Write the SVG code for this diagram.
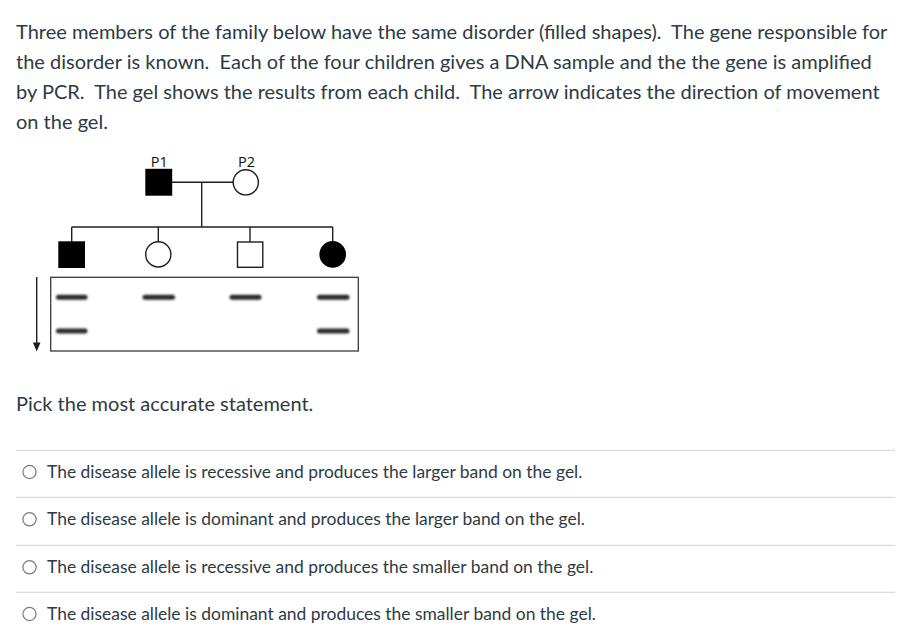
<svg xmlns="http://www.w3.org/2000/svg" width="914" height="635" viewBox="0 0 914 635">
<style>
.q{font-family:Lato,"Open Sans","Liberation Sans",sans-serif;font-size:20px;fill:#2d3b45;white-space:pre}
.o{font-family:Lato,"Open Sans","Liberation Sans",sans-serif;font-size:17.45px;fill:#2d3b45}
.lbl{font-family:"Open Sans","Liberation Sans",sans-serif;font-size:14.5px;fill:#111;text-anchor:middle}
.ln{stroke:#1e1e1e;stroke-width:1.4;fill:none}
.aff{fill:#000;stroke:#000;stroke-width:1.4}
.un{fill:#fff;stroke:#1e1e1e;stroke-width:1.4}
.sep{stroke:#dcdcdc;stroke-width:1.3}
.radio{fill:#fff;stroke:#7a7a7a;stroke-width:1.2}
.band{fill:#2a2a2a;filter:url(#blur)}
</style>
<defs>
<filter id="blur" x="-20%" y="-100%" width="140%" height="300%"><feGaussianBlur stdDeviation="1.3"/></filter>
</defs>
<rect width="914" height="635" fill="#fff"/>
<g id="question">
<text class="q" x="16" y="39">Three members of the family below have the same disorder (filled shapes).  The gene responsible for</text>
<text class="q" x="16" y="69">the disorder is known.  Each of the four children gives a DNA sample and the the gene is amplified</text>
<text class="q" x="16" y="99">by PCR.  The gel shows the results from each child.  The arrow indicates the direction of movement</text>
<text class="q" x="16" y="128.5">on the gel.</text>
</g>
<g id="connectors">
<line class="ln" x1="172" y1="182.3" x2="233" y2="182.3"/>
<line class="ln" x1="201.7" y1="182.3" x2="201.7" y2="227"/>
<line class="ln" x1="71.7" y1="227" x2="332.7" y2="227"/>
<line class="ln" x1="71.7" y1="227" x2="71.7" y2="241.7"/>
<line class="ln" x1="158.3" y1="227" x2="158.3" y2="241.7"/>
<line class="ln" x1="250" y1="227" x2="250" y2="241.7"/>
<line class="ln" x1="332.7" y1="227" x2="332.7" y2="241.7"/>
</g>
<g id="P1">
<text class="lbl" x="159.3" y="166.7">P1</text>
<rect class="aff" x="146" y="169.5" width="25.5" height="25.5"/>
</g>
<g id="P2">
<text class="lbl" x="246.5" y="166.7">P2</text>
<circle class="un" cx="245.8" cy="182.3" r="12.6"/>
</g>
<g id="child1"><rect class="aff" x="59" y="242" width="25.3" height="25.3"/></g>
<g id="child2"><circle class="un" cx="158.3" cy="254.4" r="12.6"/></g>
<g id="child3"><rect class="un" x="237.5" y="242" width="25.3" height="25.3"/></g>
<g id="child4"><circle class="aff" cx="332.7" cy="254.4" r="12.6"/></g>
<g id="gel">
<rect x="50.7" y="277.3" width="307.6" height="73.7" fill="#fff" stroke="#3a3a3a" stroke-width="1.3"/>
<rect class="band" x="56" y="294.8" width="31.5" height="5" rx="2.5"/>
<rect class="band" x="56" y="328.5" width="31.5" height="5" rx="2.5"/>
<rect class="band" x="142.5" y="294.8" width="32.5" height="5" rx="2.5"/>
<rect class="band" x="229.5" y="294.8" width="32" height="5" rx="2.5"/>
<rect class="band" x="317" y="294.8" width="32.5" height="5" rx="2.5"/>
<rect class="band" x="317" y="328.5" width="32.5" height="5" rx="2.5"/>
</g>
<g id="arrow">
<line class="ln" x1="36.7" y1="277" x2="36.7" y2="344"/>
<polygon points="32.9,342.5 40.5,342.5 36.7,351.5" fill="#1e1e1e"/>
</g>
<g id="prompt">
<text class="q" x="16" y="410.7">Pick the most accurate statement.</text>
</g>
<g id="options">
<line class="sep" x1="16" y1="450.3" x2="895" y2="450.3"/>
<circle class="radio" cx="29.5" cy="472" r="6.6"/>
<text class="o" x="47" y="478">The disease allele is recessive and produces the larger band on the gel.</text>
<line class="sep" x1="16" y1="497.3" x2="895" y2="497.3"/>
<circle class="radio" cx="29.5" cy="519.3" r="6.6"/>
<text class="o" x="47" y="525.3">The disease allele is dominant and produces the larger band on the gel.</text>
<line class="sep" x1="16" y1="545.3" x2="895" y2="545.3"/>
<circle class="radio" cx="29.5" cy="567.3" r="6.6"/>
<text class="o" x="47" y="573.3">The disease allele is recessive and produces the smaller band on the gel.</text>
<line class="sep" x1="16" y1="592.3" x2="895" y2="592.3"/>
<circle class="radio" cx="29.5" cy="614" r="6.6"/>
<text class="o" x="47" y="620">The disease allele is dominant and produces the smaller band on the gel.</text>
</g>
</svg>
